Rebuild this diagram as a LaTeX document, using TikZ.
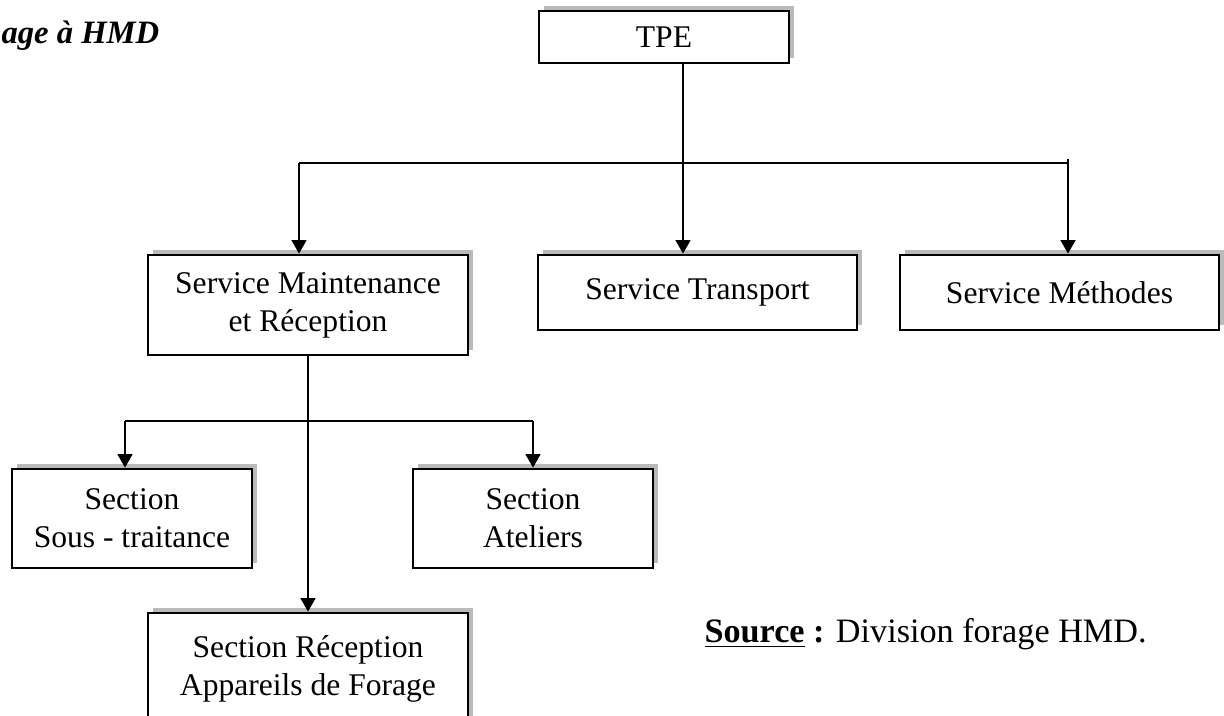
\documentclass[tikz,border=0pt]{standalone}
\usepackage{fontspec}
\setmainfont{Liberation Serif}
\usetikzlibrary{arrows.meta,shadows}
\newcommand{\pxu}{0.38pt}
\tikzset{ box_style/.style = { rectangle % organisational unit
        , draw
        , line width = 1pt
        , fill = white
        , align = center
        , inner sep = 2pt
        , font = \fontsize{12}{14.4}\selectfont
        , drop shadow = {shadow xshift=1.9pt, shadow yshift=1.9pt, fill=black!27, opacity=1}
        }
        , note_style/.style = { inner sep = 0pt % free text
        , font = \fontsize{13}{15}\selectfont
        }
        }

\begin{document}
\begin{tikzpicture}[x=\pxu, y=-\pxu,
        line_style/.style={draw=black, line width=1pt},
        edge_style/.style={draw=black, line width=1pt, -{Triangle[length=5.2pt, width=5.6pt]}}]
        \useasboundingbox (0,0) rectangle (1224,715);
        \clip (0,0) rectangle (1224,715);

        \node [note_style, anchor=base west, font=\fontsize{12.4}{15}\selectfont\bfseries\itshape] (title) at (1,43) {age à HMD};

        \node [box_style, minimum width=250*\pxu, minimum height=52*\pxu] (tpe) at (664,37) {TPE};
        \node [box_style, minimum width=320*\pxu, minimum height=100*\pxu] (maint) at (308,305) {Service Maintenance\\et Réception};
        \node [box_style, minimum width=319*\pxu, minimum height=75*\pxu] (transp) at (697.5,292.5) {Service Transport};
        \node [box_style, minimum width=319*\pxu, minimum height=75*\pxu] (meth) at (1059.5,292.5) {Service Méthodes};
        \node [box_style, minimum width=240*\pxu, minimum height=99*\pxu] (soustr) at (132,518.5) {Section\\Sous - traitance};
        \node [box_style, minimum width=240*\pxu, minimum height=99*\pxu] (atel) at (533,518.5) {Section\\Ateliers};
        \node [box_style, minimum width=320*\pxu, minimum height=112*\pxu] (recep) at (308,669) {Section Réception\\Appareils de Forage};

        \node [note_style, anchor=base west] (source) at (704,642) {\textbf{\underline{Source} :} Division forage HMD.};

        % first level
        \coordinate (j_mid)  at (683,163);
        \coordinate (j_left)  at (299,163);
        \coordinate (j_right)  at (1068,159);
        \draw [edge_style] (tpe.south -| j_mid) -- (transp.north -| j_mid);
        \draw [line_style] (j_left) -- (j_right |- j_left);
        \draw [edge_style] (j_left) -- (maint.north -| j_left);
        \draw [edge_style] (j_right) -- (meth.north -| j_right);

        % second level
        \coordinate (b_left)  at (125,421);
        \coordinate (b_right)  at (533,421);
        \draw [edge_style] (maint.south) -- (recep.north);
        \draw [line_style] (b_left) -- (b_right);
        \draw [edge_style] (b_left) -- (soustr.north -| b_left);
        \draw [edge_style] (b_right) -- (atel.north);
\end{tikzpicture}
\end{document}
